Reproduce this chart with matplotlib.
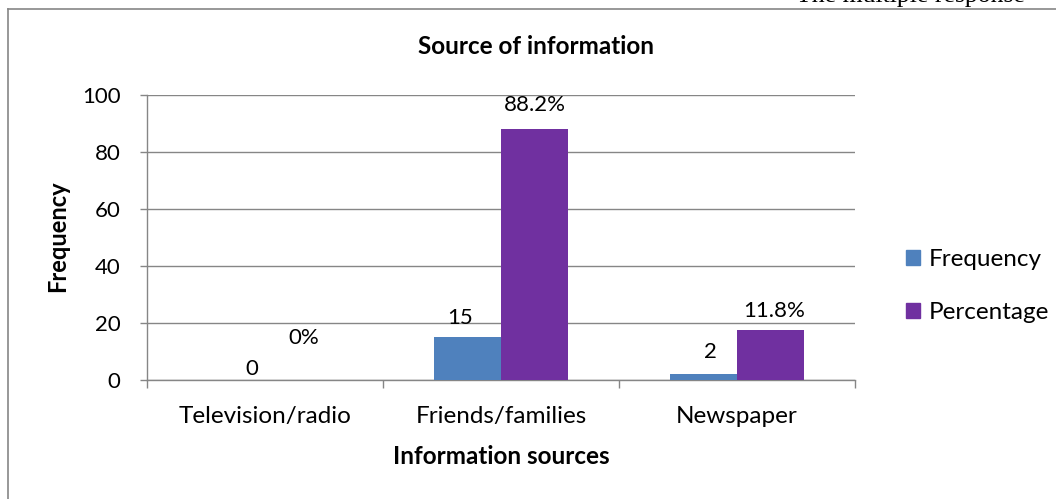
import matplotlib
matplotlib.use("Agg")
import matplotlib.pyplot as plt
from matplotlib.patches import Rectangle
from matplotlib.lines import Line2D

categories = ["Television/radio", "Friends/families", "Newspaper"]
frequency = [0, 15, 2]
percentage_bar = [0, 88.2, 17.6]
frequency_labels = ["0", "15", "2"]
percentage_labels = ["0%", "88.2%", "11.8%"]
yticks = [0, 20, 40, 60, 80, 100]

BLUE = "#4F81BD"
PURPLE = "#7030A0"
GRAY = "#868686"
FONT = "Lato"

plt.rcParams["font.family"] = [FONT, "DejaVu Sans"]

fig = plt.figure(figsize=(10.56, 4.99), dpi=100)
ax = fig.add_axes([147/1056, 1-380/499, (855-147)/1056, (380-95)/499])

w = 0.285
x = list(range(len(categories)))
xb = [i - w/2 for i in x]
xp = [i + w/2 for i in x]
ax.bar(xb, frequency, width=w, color=BLUE, zorder=3)
ax.bar(xp, percentage_bar, width=w, color=PURPLE, zorder=3)

ax.set_xlim(-0.5, len(categories) - 0.5)
ax.set_ylim(0, 100)
ax.set_yticks(yticks)
ax.set_yticklabels([str(t) for t in yticks], fontsize=16)
ax.set_xticks(x)
ax.set_xticklabels(categories, fontsize=17.5)
ax.tick_params(axis="x", length=0, pad=19)
ax.tick_params(axis="y", length=5, color=GRAY, width=1, pad=14)
# category boundary ticks
ax.set_xticks([i - 0.5 for i in range(len(categories) + 1)], minor=True)
ax.tick_params(axis="x", which="minor", length=6, color=GRAY, width=1)

ax.grid(axis="y", color=GRAY, linewidth=1, zorder=0)
for s in ["top", "right"]:
    ax.spines[s].set_visible(False)
for s in ["left", "bottom"]:
    ax.spines[s].set_color(GRAY)
    ax.spines[s].set_linewidth(1)

# data labels: (dx in data units, dy in points above bar top)
freq_offsets = [(0.085, 8), (-0.03, 14), (0.03, 16)]
pct_offsets = [(0.02, 30), (0.0, 17), (0.015, 13.5)]
for i in x:
    ax.annotate(frequency_labels[i], (xb[i] + freq_offsets[i][0], frequency[i]),
                xytext=(0, freq_offsets[i][1]), textcoords="offset points",
                ha="center", va="center", fontsize=16)
    ax.annotate(percentage_labels[i], (xp[i] + pct_offsets[i][0], percentage_bar[i]),
                xytext=(0, pct_offsets[i][1]), textcoords="offset points",
                ha="center", va="center", fontsize=16)

fig.text(536/1056, 1-46/499, "Source of information", ha="center", va="center",
         fontsize=17.5, fontweight="bold")
fig.text(58/1056, 1-236/499, "Frequency", ha="center", va="center", rotation=90,
         fontsize=17, fontweight="bold")
fig.text(501/1056, 1-457/499, "Information sources", ha="center", va="center",
         fontsize=17.5, fontweight="bold")

handles = [Rectangle((0, 0), 1, 1, color=BLUE), Rectangle((0, 0), 1, 1, color=PURPLE)]
fig.legend(handles, ["Frequency", "Percentage"], loc="center left",
           bbox_to_anchor=(884/1056, 1-286/499), frameon=False, fontsize=17.5,
           handlelength=0.6, handleheight=0.6, handletextpad=0.35, labelspacing=1.3)

# outer chart frame
fig.add_artist(Line2D([8/1056, 8/1056], [0, 1-9/499], transform=fig.transFigure,
                      color=GRAY, linewidth=1.2))
fig.add_artist(Line2D([8/1056, 1], [1-9/499, 1-9/499], transform=fig.transFigure,
                      color=GRAY, linewidth=1.2))
fig.text(1025/1056, 1-2/499, "The multiple response", ha="right", va="baseline",
         fontsize=18.5, family="Liberation Serif")

fig.savefig("out.png", dpi=100)
